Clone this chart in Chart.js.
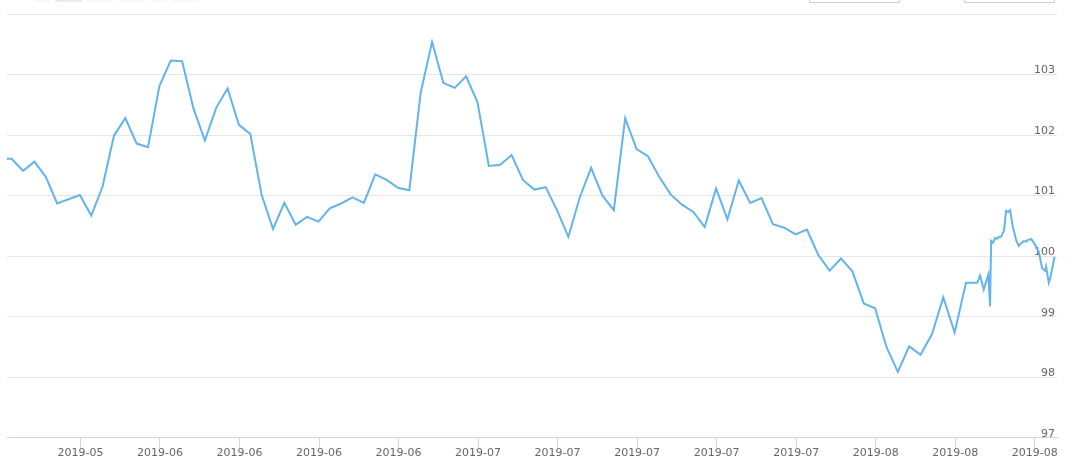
<!DOCTYPE html>
<html>
<head>
<meta charset="utf-8">
<script src="https://cdn.jsdelivr.net/npm/chart.js@4"></script>
<style>
  html, body { margin: 0; padding: 0; background: #fff; }
  #wrap { position: relative; width: 1080px; height: 471px; }
  canvas { position: absolute; left: 0; top: 0; }
  .btn { position: absolute; top: 0; height: 2px; background: #f7f7f7; }
  .btn.sel { background: #e6ebf5; }
  .inp { position: absolute; top: -10px; height: 11px; border: 1px solid #cccccc; background: #fff; }
</style>
</head>
<body>
<div id="wrap">
  <canvas id="chart" width="1080" height="471"></canvas>
  <div class="btn" style="left:35px;width:15px"></div>
  <div class="btn sel" style="left:55px;width:27px"></div>
  <div class="btn" style="left:87px;width:26px"></div>
  <div class="btn" style="left:119px;width:27px"></div>
  <div class="btn" style="left:152px;width:14px"></div>
  <div class="btn" style="left:172px;width:26px"></div>
  <div class="inp" style="left:809px;width:89px"></div>
  <div class="inp" style="left:964px;width:89px"></div>
</div>
<script>
// day offsets of each point (dense intraday part at the end)
const days = [
  -1, 0, 1, 2, 3, 4, 6, 7, 8, 9, 10, 11, 12, 13, 14, 15, 16, 17, 18, 19, 20,
  21, 22, 23, 24, 25, 26, 27, 28, 29, 30, 31, 32, 33, 34, 35, 36, 37, 38, 39, 40,
  41, 42, 43, 44, 45, 46, 47, 48, 49, 50, 51, 52, 53, 54, 55, 56, 57, 58, 59, 60,
  61, 62, 63, 64, 65, 66, 67, 68, 69, 70, 71, 72, 73, 74, 75, 76, 77, 78, 79, 80,
  81, 82, 83, 84, 85,
  85.24, 85.56, 85.97, 86.12, 86.21, 86.36, 86.56, 86.76, 86.91, 87.09, 87.35,
  87.53, 87.70, 87.88, 88.12, 88.41, 88.64, 88.82, 89.11, 89.29, 89.46, 89.75,
  90.02, 90.41, 90.70, 90.96, 91.05, 91.29, 91.41, 91.79
];
const values = [
  101.61, 101.61, 101.41, 101.56, 101.31, 100.87, 101.01, 100.67, 101.15, 101.99, 102.28,
  101.86, 101.80, 102.81, 103.23, 103.22, 102.44, 101.91, 102.45, 102.77, 102.17,
  102.02, 101.01, 100.45, 100.88, 100.52, 100.65, 100.57, 100.79, 100.87, 100.97,
  100.88, 101.35, 101.26, 101.13, 101.09, 102.70, 103.54, 102.86, 102.78, 102.97,
  102.54, 101.49, 101.51, 101.67, 101.26, 101.10, 101.14, 100.76, 100.32, 100.97,
  101.46, 101.00, 100.76, 102.28, 101.77, 101.65, 101.31, 101.02, 100.85, 100.73,
  100.48, 101.12, 100.61, 101.25, 100.88, 100.96, 100.53, 100.47, 100.36, 100.44,
  100.02, 99.76, 99.96, 99.75, 99.22, 99.14, 98.50, 98.09, 98.51, 98.37,
  98.71, 99.32, 98.74, 99.56, 99.56,
  99.68, 99.45, 99.70, 99.17, 100.25, 100.22, 100.30, 100.29, 100.32, 100.32, 100.43,
  100.75, 100.73, 100.76, 100.49, 100.27, 100.17, 100.21, 100.25, 100.24, 100.27, 100.28,
  100.21, 100.07, 99.80, 99.76, 99.83, 99.56, 99.63, 99.99
];
const tickDays = [6.05, 13.05, 20.05, 27.05, 34.05, 41.05, 48.05, 55.05, 62.05, 69.05, 76.05, 83.05, 90.05];
const tickLabels = ['2019-05', '2019-06', '2019-06', '2019-06', '2019-06', '2019-07', '2019-07',
  '2019-07', '2019-07', '2019-07', '2019-08', '2019-08', '2019-08'];

const font = { family: 'DejaVu Sans', size: 11 };

new Chart(document.getElementById('chart'), {
  type: 'line',
  data: {
    datasets: [{
      data: days.map((d, i) => ({ x: d, y: values[i] })),
      borderColor: '#63b4ec',
      borderWidth: 2,
      pointRadius: 0,
      tension: 0,
      fill: false
    }]
  },
  options: {
    responsive: false,
    animation: false,
    layout: { padding: { left: 7, top: 14, right: 23, bottom: 12 } },
    plugins: { legend: { display: false }, tooltip: { enabled: false } },
    scales: {
      x: {
        type: 'linear',
        min: -0.414,
        max: 92.01,
        afterBuildTicks: (scale) => { scale.ticks = tickDays.map(v => ({ value: v })); },
        grid: { drawOnChartArea: false, drawTicks: true, tickLength: 10, color: '#ccd6eb' },
        border: { color: '#ccd6eb', width: 1 },
        ticks: {
          autoSkip: false, maxRotation: 0, padding: -1, color: '#666666', font,
          callback: (v, i) => tickLabels[i]
        }
      },
      y: {
        position: 'right',
        min: 97,
        max: 104,
        grid: { color: '#e6e6e6', drawTicks: false },
        border: { display: false },
        ticks: {
          stepSize: 1, mirror: true, padding: -2, labelOffset: -4, color: '#666666', font,
          callback: v => (v === 104 ? '' : v)
        }
      }
    }
  }
});
</script>
</body>
</html>
